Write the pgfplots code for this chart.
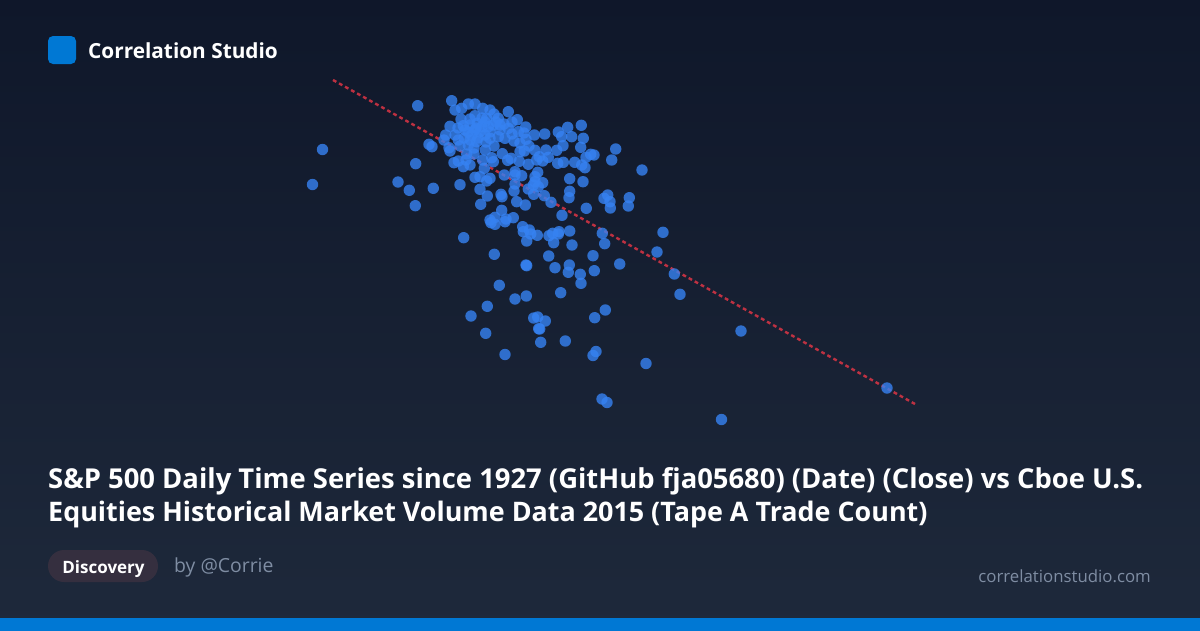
\documentclass[border=0pt]{standalone}
\usepackage{fontspec}
\setmainfont{Open Sans}
\usepackage{pgfplots}
\pgfplotsset{compat=1.18}
\usepackage{pgfplotstable}
\definecolor{bgtop}{HTML}{0F172A}
\definecolor{bgbot}{HTML}{1E293B}
\definecolor{brand}{HTML}{0078D4}
\definecolor{dot}{HTML}{3682F2}
\definecolor{fit}{HTML}{DC3545}
\definecolor{pill}{HTML}{352F3F}
\definecolor{muted}{HTML}{7F8DA3}
\newcommand{\px}[1]{\fontsize{#1}{#1}\selectfont}

\pgfplotstableread{
x y
417.7 105.7
451.7 100.7
455 110
461.7 108.3
468.3 104
475 104
482.7 108.3
461 119.3
475 115.7
494 114
508.3 111.7
498.3 118.3
517.3 119.7
450 126.3
463.3 125.7
477.3 123.3
486.7 118.3
481.7 126.7
488.3 126.7
493.3 125
508.3 128.3
525.7 127
445.7 135
455 135
471.7 135
480 131.7
490 138.3
498.3 136.7
505 138.3
514 141
518.3 131.7
534.3 135
544.7 134
558.3 132
567.7 127.3
581.3 125.3
561.7 136.7
571.7 136.7
583.3 138.3
526 139.3
429 144.3
432 146.7
449 147.7
450 151
458.3 140
468.3 145
476.7 141.7
485.3 150
524.3 151
535 150.3
546 150
556.7 150.3
563 145.7
580.7 147.3
520 151.7
502.3 153.7
466.7 154
482.7 160
491.7 157.7
493.3 161.7
507.7 160.3
519.3 161.3
511 158.3
539.3 156.7
548.3 157.3
542.7 161
528.3 164.3
536.7 160
415.7 163.7
454 162.7
458.3 161
463.3 166.7
470 165
557.7 163.3
563.3 162.3
574.7 162.3
581.7 165
585 167.7
586 157.3
590.7 154.3
594 155
615.7 149
611.7 160
642 170
484.3 168.3
515 171.7
537.7 172.3
475 177.3
480 176.7
486.7 181
490 178.3
504.3 175
521.7 175.7
515 175
535 176.7
569.7 178.7
583 181.7
542.7 182.7
535 181.7
515 184
533.3 185
460 184.7
433.3 188.3
409.3 190.3
398 182
480 189.3
487.3 196
501 194.3
502 196.7
514 191
528.3 189
538.3 186.7
533.7 194.3
544.3 195.7
551 202.3
569.7 191.3
569 197.7
480.7 204.3
516.7 201.7
525.3 205
415.3 205.7
604 198.3
607.7 195
610 201.7
610.3 208
629.3 197.7
628.3 206
586.3 208.3
562 215.3
501.7 210.3
495 217.3
506 219
513.3 217.7
490 220
491 222.7
495 224.3
505 221.7
522.7 226.7
523.3 231.7
529.3 230
530.7 234
537.3 235.3
526.7 241
549 235.7
552.7 233.3
559 231.7
558.3 234
569.7 231
553.7 242.7
572 245
602.3 233.3
604.7 243.7
663 232.3
657 252
463.7 237.7
494.3 254.3
548.7 256
593 255.7
526 265
526.7 265.7
555 267.7
569.3 265
568.3 272.3
594.3 270.7
580.3 274.3
581 283.3
619.7 264
674.3 274
680 294.3
499.3 285.3
515 299
526.3 296
560.7 292.7
487.3 306.3
471 316
485.7 333.3
533.7 318
537.7 317
545.3 321
539.7 329
538.7 328.7
540.7 342.3
565.3 341
594.7 317.7
605.3 310
322.5 149.5
312.5 184.5
505 354.5
593 355.5
596 351.5
646 363.5
602 399
607 402.5
721.5 419.5
741 331
887 388
470 125
475 130
485 122
490 132
478 138
470 140
485 135
465 130
474 148
500 125
490 110
470 119
482 118
458 128
468 132
476 128
500 130
496 122
504 124
512 122
460 146
464 138
474 154
486 142
494 146
512 134
524 133
529 146
520 143
466 160
444 140
}\points

\begin{document}
\begin{tikzpicture}[x=1pt,y=1pt]
\useasboundingbox (0,0) rectangle (1200,630);
\shade[top color=bgtop,bottom color=bgbot] (-2,-2) rectangle (1202,632);
\fill[brand] (-2,-2) rectangle (1202,12);
\begin{axis}[
	at={(0,0)},
	anchor=south west,
	width=1200pt,
	height=630pt,
	scale only axis,
	xmin=0,
	xmax=1200,
	ymin=0,
	ymax=630,
	y dir=reverse,
	hide axis,
	clip=false,
]
% trend line, under the dots
\addplot[fit, line width=2.4pt, opacity=0.85, dash pattern=on 3.8pt off 3.1pt, forget plot]
coordinates {(333,80) (915,404)};

\addplot[only marks, mark=*, mark size=5.7pt,
	mark options={draw opacity=0, fill=dot, fill opacity=0.8}]
table[x=x, y=y] {\points};

% header
\fill[brand, rounded corners=5pt] (axis cs:48,36) rectangle (axis cs:76,64);
\node[anchor=base west, inner sep=0, text=white, font=\px{20.8}\bfseries] at (axis cs:88,58) {Correlation Studio};

% title
\node[anchor=base west, inner sep=0, text=white, font=\px{27.4}\bfseries] at (axis cs:48,488) {S\&P 500 Daily Time Series since 1927 (GitHub fja05680) (Date) (Close) vs Cboe U.S.};
\node[anchor=base west, inner sep=0, text=white, font=\px{26.9}\bfseries] at (axis cs:48,521) {Equities Historical Market Volume Data 2015 (Tape A Trade Count)};

% footer
\fill[pill, rounded corners=16pt] (axis cs:48,550) rectangle (axis cs:158,582);
\node[anchor=base, inner sep=0, text=white, font=\px{17}\bfseries] at (axis cs:103.5,573) {Discovery};
\node[anchor=base west, inner sep=0, text=muted, font=\px{19.4}] at (axis cs:174,572.5) {by @Corrie};
\node[anchor=base east, inner sep=0, text=muted, font=\px{16.8}] at (axis cs:1151,582) {correlationstudio.com};
\end{axis}
\end{tikzpicture}
\end{document}
